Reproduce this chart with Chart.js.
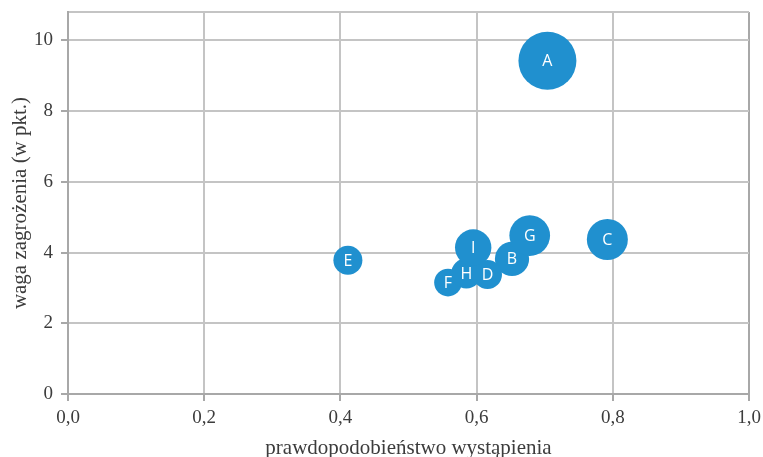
<!DOCTYPE html>
<html>
<head>
<meta charset="utf-8">
<script src="https://cdn.jsdelivr.net/npm/chart.js@4/dist/chart.umd.min.js"></script>
<style>
  html, body { margin: 0; padding: 0; background: #ffffff; }
  canvas { display: block; }
</style>
</head>
<body>
<canvas id="chart" width="763" height="457"></canvas>
<script>
// Zagrożenia: prawdopodobieństwo, waga i wielkość bąbla (ryzyko)
const zagrozenia = ['A', 'B', 'C', 'D', 'E', 'F', 'G', 'H', 'I'];
const prawdopodobienstwo = [0.704, 0.652, 0.792, 0.616, 0.411, 0.558, 0.678, 0.585, 0.595];
const waga = [9.42, 3.82, 4.37, 3.38, 3.78, 3.15, 4.48, 3.41, 4.14];
const ryzyko = [6.6, 2.3, 3.3, 1.65, 1.65, 1.5, 3.25, 1.8, 2.6];

const xTicks = [0, 0.2, 0.4, 0.6, 0.8, 1.0];
const yTicks = [0, 2, 4, 6, 8, 10];
const yMax = 10.8;

const BLUE = '#2090cf';
const GRID = '#c4c4c4';
const AXIS = '#a8a8a8';
const TEXT = '#3c3c3c';
const MAX_RADIUS = 29;

const maxRyzyko = Math.max(...ryzyko);
const points = zagrozenia.map((name, i) => ({
  x: prawdopodobienstwo[i],
  y: waga[i],
  r: MAX_RADIUS * Math.sqrt(ryzyko[i] / maxRyzyko),
  label: name
}));

// White letter in the middle of each bubble
const bubbleLabels = {
  id: 'bubbleLabels',
  afterDatasetsDraw(chart) {
    const { ctx } = chart;
    const meta = chart.getDatasetMeta(0);
    ctx.save();
    ctx.fillStyle = '#ffffff';
    ctx.font = '16px "Open Sans", sans-serif';
    ctx.textAlign = 'center';
    ctx.textBaseline = 'middle';
    meta.data.forEach((el, i) => {
      ctx.fillText(points[i].label, el.x, el.y + 1);
    });
    ctx.restore();
  }
};

const tickFont = { family: '"Liberation Serif", serif', size: 19 };
const titleFont = { family: '"Liberation Serif", serif', size: 21, lineHeight: 1 };

new Chart(document.getElementById('chart'), {
  type: 'bubble',
  data: {
    datasets: [{
      data: points,
      backgroundColor: BLUE,
      borderWidth: 0,
      hoverBorderWidth: 0,
      clip: false
    }]
  },
  options: {
    responsive: false,
    animation: false,
    events: [],
    layout: {
      autoPadding: false,
      padding: { top: 12, right: 14, left: 0, bottom: 0 }
    },
    plugins: {
      legend: { display: false },
      tooltip: { enabled: false }
    },
    scales: {
      x: {
        type: 'linear',
        min: 0,
        max: 1,
        afterBuildTicks(scale) { scale.ticks = xTicks.map(v => ({ value: v })); },
        afterFit(scale) {
          scale.height = 63;
          scale.paddingLeft = 0;
          scale.paddingRight = 0;
        },
        ticks: {
          font: tickFont,
          color: TEXT,
          padding: 6,
          maxRotation: 0,
          callback: v => v.toFixed(1).replace('.', ',')
        },
        grid: {
          color: ctx => (ctx.tick && Math.abs(ctx.tick.value - 1) < 1e-9) ? AXIS : GRID,
          lineWidth: 2,
          tickLength: 7,
          tickColor: AXIS,
          tickWidth: 2
        },
        border: { color: AXIS, width: 2 },
        title: {
          display: true,
          text: 'prawdopodobieństwo wystąpienia',
          font: titleFont,
          color: TEXT,
          padding: { top: 0, bottom: -2 }
        }
      },
      y: {
        type: 'linear',
        min: 0,
        max: yMax,
        afterBuildTicks(scale) {
          scale.ticks = yTicks.concat([yMax]).map(v => ({ value: v }));
        },
        afterFit(scale) {
          scale.width = 68;
          scale.paddingTop = 0;
          scale.paddingBottom = 0;
        },
        ticks: {
          font: tickFont,
          color: TEXT,
          padding: 8,
          callback: v => (v === yMax ? '' : String(v))
        },
        grid: {
          color: GRID,
          lineWidth: 2,
          tickLength: 7,
          tickColor: ctx => (ctx.tick && ctx.tick.value === yMax) ? 'rgba(0,0,0,0)' : AXIS,
          tickWidth: 2
        },
        border: { color: AXIS, width: 2 },
        title: {
          display: true,
          text: 'waga zagrożenia (w pkt.)',
          font: titleFont,
          color: TEXT,
          padding: { top: 10, bottom: 0 }
        }
      }
    }
  },
  plugins: [bubbleLabels]
});
</script>
</body>
</html>
